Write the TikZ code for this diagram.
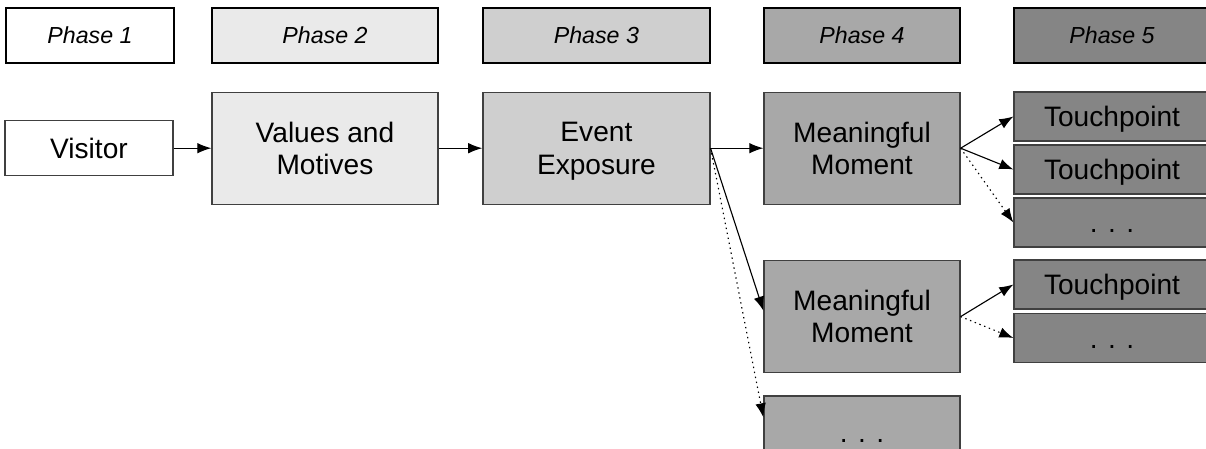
\documentclass[tikz,border=0pt]{standalone}
\usepackage{fontspec}
\setmainfont{Liberation Sans}
\usepackage{tikz}
\usetikzlibrary{arrows.meta}
\definecolor{phaseA}{HTML}{FFFFFF}
\definecolor{phaseB}{HTML}{EAEAEA}
\definecolor{phaseC}{HTML}{CFCFCF}
\definecolor{phaseD}{HTML}{A8A8A8}
\definecolor{phaseE}{HTML}{858585}

\begin{document}
\begin{tikzpicture}[
		phasebox/.style={draw=black,line width=1.4pt,inner sep=0pt,minimum height=1.375cm,
			font=\fontsize{16.5}{19}\selectfont\itshape},
		stagebox/.style={draw=black!75,line width=0.9pt,inner sep=0pt,align=center,
			font=\fontsize{20}{23}\selectfont},
		oneline/.style={text height=14.4pt,text depth=0pt},
		link/.style={line width=0.8pt,-{Latex[length=10pt,width=7.5pt]}},
		maybe/.style={link,dash pattern=on 1pt off 2.6pt}]
			\clip (0,0) rectangle (30.15,11.225);
			% phase headers
			\node[phasebox,fill=phaseA,minimum width=4.2cm] (ph1) at (2.25,10.34) {Phase 1};
			\node[phasebox,fill=phaseB,minimum width=5.65cm] (ph2) at (8.125,10.34) {Phase 2};
			\node[phasebox,fill=phaseC,minimum width=5.675cm] (ph3) at (14.91,10.34) {Phase 3};
			\node[phasebox,fill=phaseD,minimum width=4.9cm] (ph4) at (21.55,10.34) {Phase 4};
			\node[phasebox,fill=phaseE,minimum width=4.9cm] (ph5) at (27.8,10.34) {Phase 5};
			% main chain
			\node[stagebox,fill=phaseA,minimum width=4.2cm,minimum height=1.375cm] (visitor) at (2.225,7.52) {Visitor};
			\node[stagebox,fill=phaseB,minimum width=5.65cm,minimum height=2.8cm] (values) at (8.125,7.52) {Values and\\Motives};
			\node[stagebox,fill=phaseC,minimum width=5.675cm,minimum height=2.8cm] (event) at (14.91,7.52) {Event\\\smash{Exposure}};
			% phase 4
			\node[stagebox,fill=phaseD,minimum width=4.9cm,minimum height=2.8cm] (mm1) at (21.55,7.52) {Meaningful\\Moment};
			\node[stagebox,fill=phaseD,minimum width=4.9cm,minimum height=2.8cm] (mm2) at (21.55,3.31) {Meaningful\\Moment};
			\node[stagebox,oneline,fill=phaseD,minimum width=4.9cm,minimum height=1.8cm] (more4) at (21.55,0.425) {. . .};
			% phase 5
			\node[stagebox,oneline,fill=phaseE,minimum width=4.9cm,minimum height=1.225cm] (tp1) at (27.8,8.3125) {Touchpoint};
			\node[stagebox,oneline,fill=phaseE,minimum width=4.9cm,minimum height=1.225cm] (tp2) at (27.8,6.9875) {Touchpoint};
			\node[stagebox,oneline,fill=phaseE,minimum width=4.9cm,minimum height=1.225cm] (more5a) at (27.8,5.6625) {. . .};
			\node[stagebox,oneline,fill=phaseE,minimum width=4.9cm,minimum height=1.225cm] (tp3) at (27.8,4.1125) {Touchpoint};
			\node[stagebox,oneline,fill=phaseE,minimum width=4.9cm,minimum height=1.225cm] (more5b) at (27.8,2.775) {. . .};
			% arrows
			\draw[link] (visitor) -- (values);
			\draw[link] (values) -- (event);
			\draw[link] (event.east) -- (mm1.west);
			\draw[link] (event.east) -- ([yshift=0.15cm]mm2.west);
			\draw[maybe] (event.east) -- ([yshift=-0.55cm]more4.north west);
			\draw[link] (mm1.east) -- (tp1.west);
			\draw[link] (mm1.east) -- (tp2.west);
			\draw[maybe] (mm1.east) -- (more5a.west);
			\draw[link] (mm2.east) -- (tp3.west);
			\draw[maybe] (mm2.east) -- (more5b.west);
		\end{tikzpicture}
\end{document}
